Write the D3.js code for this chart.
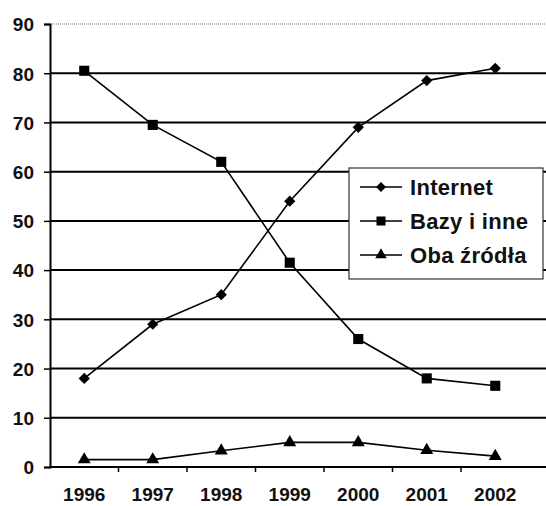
<!DOCTYPE html>
<html><head><meta charset="utf-8">
<script src="https://cdn.jsdelivr.net/npm/d3@7"></script>
<style>body{margin:0;background:#fff}svg{display:block}text{font-family:"Liberation Sans",Arial,sans-serif;font-weight:bold;fill:#111}</style>
</head><body>
<script>
const years = ["1996","1997","1998","1999","2000","2001","2002"];
const internet = [18, 29, 35, 54, 69, 78.5, 81];
const bazy = [80.5, 69.5, 62, 41.5, 26, 18, 16.5];
const oba = [1.5, 1.5, 3.3, 5, 5, 3.4, 2.2];
const yTicks = [0,10,20,30,40,50,60,70,80,90];
const seriesNames = ["Internet","Bazy i inne","Oba źródła"];

(function(){
const W=546,H=506;
const svg=d3.select("body").append("svg").attr("width",W).attr("height",H);
const mLeft=50, mTop=24, mBottom=467;
const x=d3.scaleBand().domain(years).range([mLeft,mLeft+7*68.5]).padding(0);
const y=d3.scaleLinear().domain([0,90]).range([mBottom,mTop]);
const xc=d=>x(d)+x.bandwidth()/2;
const FONT="Liberation Sans, Arial, sans-serif";

// gridlines
svg.append("g").selectAll("line").data(yTicks.filter(v=>v<90)).join("line")
  .attr("x1",mLeft).attr("x2",W).attr("y1",d=>y(d)).attr("y2",d=>y(d))
  .attr("stroke","#000").attr("stroke-width",2);
svg.append("line").attr("x1",mLeft).attr("x2",W).attr("y1",y(90)).attr("y2",y(90))
  .attr("stroke","#777").attr("stroke-width",1).attr("stroke-dasharray","1,1");

// y axis
const ya=svg.append("g").attr("transform",`translate(${mLeft},0)`)
  .call(d3.axisLeft(y).tickValues(yTicks).tickSize(6).tickPadding(10));
ya.select(".domain").attr("stroke","#000").attr("stroke-width",2);
ya.selectAll(".tick line").attr("stroke","#000").attr("stroke-width",1.5);
ya.selectAll("text").style("font-size","19px").style("font-family",FONT).style("font-weight","bold").attr("fill","#111").attr("dy","0.36em");

// x axis
const xa=svg.append("g").attr("transform",`translate(0,${mBottom})`)
  .call(d3.axisBottom(x).tickSize(0).tickPadding(21));
xa.select(".domain").remove();
xa.selectAll("text").style("font-size","19px").style("font-family",FONT).style("font-weight","bold").attr("fill","#111");
svg.append("g").selectAll("line").data(years.slice(1)).join("line")
  .attr("x1",d=>x(d)).attr("x2",d=>x(d)).attr("y1",mBottom).attr("y2",mBottom+5)
  .attr("stroke","#000").attr("stroke-width",1.5);

const line=d3.line().x((d,i)=>xc(years[i])).y(d=>y(d));
const data=[internet,bazy,oba];
const syms=[d3.symbolDiamond2,d3.symbolSquare2,d3.symbolTriangle2];
const sizes=[80,130,120];
data.forEach((s,k)=>{
  svg.append("path").datum(s).attr("d",line).attr("fill","none").attr("stroke","#000").attr("stroke-width",1.6);
  svg.append("g").selectAll("path").data(s).join("path")
    .attr("transform",(d,i)=>`translate(${xc(years[i])},${y(d)})`)
    .attr("d",d3.symbol().type(syms[k]).size(sizes[k])).attr("fill","#000");
});

// legend
const lg=svg.append("g").attr("transform","translate(349,168)");
lg.append("rect").attr("width",194).attr("height",111).attr("fill","#fff").attr("stroke","#333").attr("stroke-width",1.2);
seriesNames.forEach((n,k)=>{
  const cy=19+k*34;
  lg.append("line").attr("x1",11).attr("x2",53).attr("y1",cy).attr("y2",cy).attr("stroke","#000").attr("stroke-width",1.6);
  lg.append("path").attr("transform",`translate(32,${cy})`).attr("d",d3.symbol().type(syms[k]).size(sizes[k]*0.8)).attr("fill","#000");
  lg.append("text").attr("x",61).attr("y",cy).attr("dy","0.36em").style("font-size","22px").style("letter-spacing","0.3px").text(n);
});
})();
</script>
</body></html>
